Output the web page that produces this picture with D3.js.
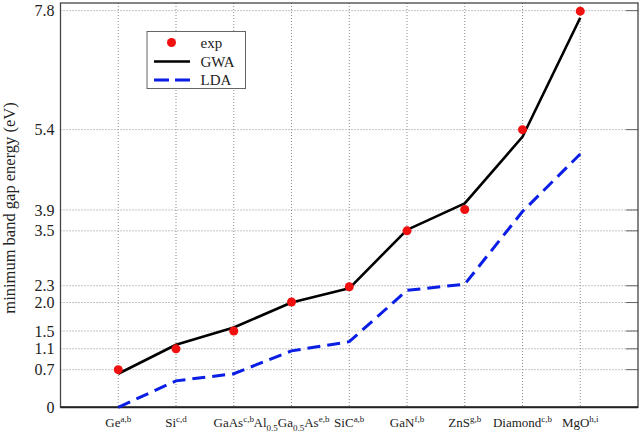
<!DOCTYPE html>
<html><head><meta charset="utf-8">
<script src="https://cdn.jsdelivr.net/npm/d3@7"></script>
<style>body{margin:0;background:#fff}svg{display:block}</style>
</head><body><svg id="c" width="643" height="436" font-family="Liberation Serif, Times New Roman, Times, serif"></svg>
<script>
const categories = [
  {main:"Ge", parts:[["Ge","n"],["a,b","sup"]]},
  {main:"Si", parts:[["Si","n"],["c,d","sup"]]},
  {main:"GaAs", parts:[["GaAs","n"],["c,b","sup"]]},
  {main:"AlGaAs", parts:[["Al","n"],["0.5","sub"],["Ga","n"],["0.5","sub"],["As","n"],["e,b","sup"]]},
  {main:"SiC", parts:[["SiC","n"],["a,b","sup"]]},
  {main:"GaN", parts:[["GaN","n"],["f,b","sup"]]},
  {main:"ZnS", parts:[["ZnS","n"],["g,b","sup"]]},
  {main:"Diamond", parts:[["Diamond","n"],["c,b","sup"]]},
  {main:"MgO", parts:[["MgO","n"],["h,i","sup"]]}
];
const expValues = [0.74, 1.15, 1.50, 2.07, 2.37, 3.47, 3.89, 5.46, 7.79];
const gwaValues = [0.66, 1.23, 1.57, 2.06, 2.34, 3.49, 4.01, 5.32, 7.66];
const ldaValues = [0.00, 0.52, 0.66, 1.11, 1.29, 2.30, 2.42, 3.85, 4.98];
const yTickValues = [0, 0.74, 1.15, 1.50, 2.06, 2.39, 3.47, 3.88, 5.46, 7.80];
const yTickLabels = ["0", "0.7", "1.1", "1.5", "2.0", "2.3", "3.5", "3.9", "5.4", "7.8"];
const legendItems = ["exp", "GWA", "LDA"];

const FONT = "Liberation Serif, Times New Roman, Times, serif";
const svg = d3.select("#c");
const L = 60.5, R = 638, T = 3, B = 407.3;
const x = d3.scaleLinear().domain([-1, 9]).range([L, R]);
const y = d3.scaleLinear().domain([0, 7.95]).range([B, T]);
const idx = d3.range(categories.length);

// grid
const g = svg.append("g");
g.selectAll("line.h").data(yTickValues.slice(1)).join("line")
  .attr("x1", L).attr("x2", R).attr("y1", d => y(d)).attr("y2", d => y(d))
  .attr("stroke", "#8a8a8a").attr("stroke-width", 1).attr("stroke-dasharray", "1,2");
g.selectAll("line.v").data(idx).join("line")
  .attr("x1", d => x(d)).attr("x2", d => x(d)).attr("y1", T).attr("y2", B)
  .attr("stroke", "#8a8a8a").attr("stroke-width", 1).attr("stroke-dasharray", "1,2");
// right mirror ticks
g.selectAll("line.rt").data(yTickValues.slice(1)).join("line")
  .attr("x1", R - 12).attr("x2", R).attr("y1", d => y(d)).attr("y2", d => y(d))
  .attr("stroke", "#666").attr("stroke-width", 1);

// y axis labels
const yAxis = d3.axisLeft(y).tickValues(yTickValues).tickFormat((d, i) => yTickLabels[i]).tickSize(0).tickPadding(6);
const ya = svg.append("g").attr("transform", `translate(${L},0)`).call(yAxis).attr("font-family", FONT);
ya.select(".domain").remove();
ya.selectAll("text").attr("font-size", 16).attr("fill", "#222").attr("font-family", FONT);

// frame
svg.append("rect").attr("x", L).attr("y", T).attr("width", R - L).attr("height", B - T)
  .attr("fill", "none").attr("stroke", "#444").attr("stroke-width", 1.3);
svg.append("line").attr("x1", L).attr("x2", R).attr("y1", B).attr("y2", B).attr("stroke", "#222").attr("stroke-width", 2);

// lines
const line = d3.line().x((d, i) => x(i)).y(d => y(d));
svg.append("path").datum(ldaValues).attr("d", line).attr("fill", "none")
  .attr("stroke", "#0a1ee6").attr("stroke-width", 3).attr("stroke-dasharray", "13,7");
svg.append("path").datum(gwaValues).attr("d", line).attr("fill", "none")
  .attr("stroke", "#000").attr("stroke-width", 2.6).attr("stroke-linejoin", "round");
svg.append("g").selectAll("circle").data(expValues).join("circle")
  .attr("cx", (d, i) => x(i)).attr("cy", d => y(d)).attr("r", 4.5).attr("fill", "#f01010");

// x labels
const xl = svg.append("g");
categories.forEach((c, i) => {
  const t = xl.append("text").attr("x", x(i)).attr("y", 427).attr("text-anchor", "middle")
    .attr("font-size", 13).attr("fill", "#222").attr("font-family", FONT);
  let shift = 0;
  c.parts.forEach(([s, k]) => {
    let target = k === "sup" ? -5 : k === "sub" ? 4 : 0;
    const ts = t.append("tspan").text(s).attr("dy", target - shift);
    if (k !== "n") ts.attr("font-size", 9);
    shift = target;
  });
});

// y title
svg.append("text").attr("transform", `translate(15,${208}) rotate(-90)`).attr("text-anchor", "middle")
  .attr("font-size", 16.5).attr("fill", "#222").attr("font-family", FONT).text("minimum band gap energy (eV)");

// legend
const lg = svg.append("g");
lg.append("rect").attr("x", 147).attr("y", 31.5).attr("width", 98.5).attr("height", 57)
  .attr("fill", "#fff").attr("stroke", "#666").attr("stroke-width", 1);
const ly = [42.5, 61.5, 80];
lg.append("circle").attr("cx", 171.5).attr("cy", ly[0]).attr("r", 4.5).attr("fill", "#f01010");
lg.append("line").attr("x1", 154).attr("x2", 190).attr("y1", ly[1]).attr("y2", ly[1]).attr("stroke", "#000").attr("stroke-width", 2.6);
lg.append("line").attr("x1", 154).attr("x2", 190).attr("y1", ly[2]).attr("y2", ly[2]).attr("stroke", "#0a1ee6").attr("stroke-width", 3).attr("stroke-dasharray", "15,6");
lg.selectAll("text").data(legendItems).join("text")
  .attr("x", 200.5).attr("y", (d, i) => ly[i] + 5).attr("font-size", 15).attr("fill", "#222").attr("font-family", FONT).text(d => d);
</script></body></html>
